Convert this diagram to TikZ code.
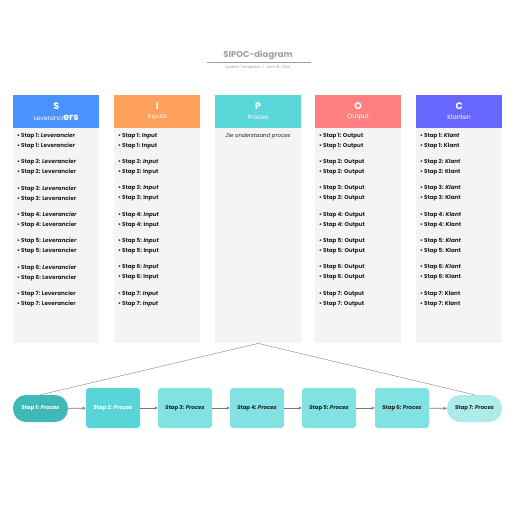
\documentclass[tikz,border=0pt]{standalone}
\usepackage{fontspec}
\setmainfont{Poppins}
\usetikzlibrary{arrows.meta}
\definecolor{cS}{HTML}{4A93FF}
\definecolor{cI}{HTML}{FFA15A}
\definecolor{cP}{HTML}{5AD7D8}
\definecolor{cO}{HTML}{FF8080}
\definecolor{cC}{HTML}{6767FF}
\definecolor{colbg}{HTML}{F4F4F4}
\definecolor{p1}{HTML}{3FB8B8}
\definecolor{p2}{HTML}{59D5D7}
\definecolor{p3}{HTML}{82E1E1}
\definecolor{p7}{HTML}{AEEBEB}
\definecolor{titlegray}{HTML}{9A9EA6}
\definecolor{txt}{HTML}{222222}
\definecolor{linegray}{HTML}{777777}
\tikzset{
  head/.style={fill=#1, draw=none, minimum width=86pt, minimum height=33pt, inner sep=0pt, anchor=north west},
  body/.style={fill=colbg, draw=none, minimum width=86pt, minimum height=215pt, inner sep=0pt, anchor=north west},
  item/.style={anchor=west, inner sep=0pt, font=\fontsize{5.6}{6}\selectfont\bfseries, text=txt},
  hletter/.style={font=\fontsize{9.5}{10}\selectfont\bfseries, text=white, inner sep=0pt},
  hsub/.style={font=\fontsize{6.2}{7}\selectfont, text=white, inner sep=0pt},
  pstep/.style={fill=#1, draw=none, rounded corners=3pt, minimum width=54pt, minimum height=40pt, inner sep=0pt, font=\fontsize{5.4}{6}\selectfont\bfseries},
  ppill/.style={fill=#1, draw=none, rounded corners=13pt, minimum width=55pt, minimum height=27pt, inner sep=0pt, font=\fontsize{5.4}{6}\selectfont\bfseries},
  flow/.style={draw=linegray, line width=0.6pt, -{Stealth[length=3.5pt,width=3pt]}},
  fan/.style={draw=linegray!80, line width=0.5pt},
}
\begin{document}
\begin{tikzpicture}[x=1pt,y=-1pt]
\useasboundingbox (0,0) rectangle (516,516);
% title
\node[font=\fontsize{8.5}{9}\selectfont\bfseries, text=titlegray, inner sep=0pt] (title) at (258,55) {SIPOC-diagram};
\draw[titlegray, line width=0.6pt] (207,62) -- (311,62);
\node[font=\fontsize{3.8}{4}\selectfont, text=titlegray, inner sep=0pt] (sub) at (258,67.5) {System Templates \ | \ June 18, 2024};
% columns
\foreach \n/\x/\c in {S/13/cS, I/114/cI, P/215/cP, O/315/cO, C/416/cC}{
  \node[body] (b\n) at (\x,128) {};
  \node[head=\c] (h\n) at (\x,95) {};
}
\node[hletter] (lS) at (hS.center |- 0,106) {S};
\node[hsub] (sS) at (hS.center |- 0,117.5) {Leveranci{\fontsize{9.5}{10}\selectfont\bfseries ers}};
\node[hletter] (lI) at (hI.center |- 0,106) {I};
\node[hsub] (sI) at (hI.center |- 0,117.5) {Inputs};
\node[hletter] (lP) at (hP.center |- 0,106) {P};
\node[hsub] (sP) at (hP.center |- 0,117.5) {Proces};
\node[hletter] (lO) at (hO.center |- 0,106) {O};
\node[hsub] (sO) at (hO.center |- 0,117.5) {Output};
\node[hletter] (lC) at (hC.center |- 0,106) {C};
\node[hsub] (sC) at (hC.center |- 0,117.5) {Klanten};
\node[inner sep=0pt, font=\fontsize{5.4}{6}\selectfont\itshape, text=txt] (pz) at (hP.center |- 0,136) {Zie onderstaand proces};
% items
\foreach \k in {1,...,7}{
  \pgfmathsetmacro{\ya}{136+26.3*(\k-1)}
  \pgfmathsetmacro{\yb}{\ya+10}
  \ifnum\k<7
    \node[item] (s\k a) at (17,\ya) {• Stap \k: \textit{Leverancier}};
    \node[item] (i\k a) at (118,\ya) {• Stap \k: \textit{Input}};
    \node[item] (c\k a) at (420,\ya) {• Stap \k: \textit{Klant}};
    \node[item] (i\k b) at (118,\yb) {• Stap \k: Input};
  \else
    \node[item] (s\k a) at (17,\ya) {• Stap \k: Leverancier};
    \node[item] (i\k a) at (118,\ya) {• Stap \k: \textit{Input}};
    \node[item] (c\k a) at (420,\ya) {• Stap \k: Klant};
    \node[item] (i\k b) at (118,\yb) {• Stap \k: \textit{Input}};
  \fi
  \node[item] (s\k b) at (17,\yb) {• Stap \k: Leverancier};
  \node[item] (o\k a) at (319,\ya) {• Stap \k: Output};
  \node[item] (o\k b) at (319,\yb) {• Stap \k: Output};
  \node[item] (c\k b) at (420,\yb) {• Stap \k: Klant};
}
% process flow
\node[ppill=p1, text=white] (st1) at (40.5,408.5) {Stap 1: \textit{Proces}};
\node[pstep=p2, text=white] (st2) at (113,408) {Stap 2: \textit{Proces}};
\node[pstep=p3, text=txt] (st3) at (185,408) {Stap 3: \textit{Proces}};
\node[pstep=p3, text=txt] (st4) at (257,408) {Stap 4: \textit{Proces}};
\node[pstep=p3, text=txt] (st5) at (329,408) {Stap 5: \textit{Proces}};
\node[pstep=p3, text=txt] (st6) at (402,408) {Stap 6: \textit{Proces}};
\node[ppill=p7, text=txt] (st7) at (474.5,408.5) {Stap 7: \textit{Proces}};
\draw[flow] (st1) -- (st2);
\draw[flow] (st2) -- (st3);
\draw[flow] (st3) -- (st4);
\draw[flow] (st4) -- (st5);
\draw[flow] (st5) -- (st6);
\draw[flow] (st6) -- (st7);
\coordinate (pb) at (bP.south);
\draw[fan] (st1.north) -- (pb) -- (st7.north);
\end{tikzpicture}
\end{document}
